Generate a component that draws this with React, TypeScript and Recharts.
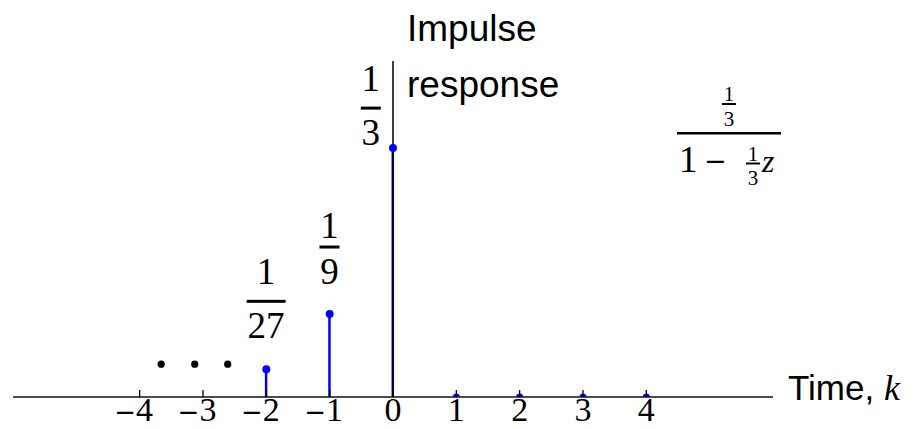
import React from 'react';
import {
  ComposedChart,
  Bar,
  Scatter,
  XAxis,
  YAxis,
  ReferenceLine,
  LabelList,
} from 'recharts';

// impulse response h(k) of 1/3 / (1 - z/3): nonzero only for k <= 0
const TIME_K = [-2, -1, 0, 1, 2, 3, 4];
const RESPONSE = [1 / 27, 1 / 9, 1 / 3, 0, 0, 0, 0];
const LABEL_NUM = ['1', '1', '1', '', '', '', ''];
const LABEL_DEN = ['27', '9', '3', '', '', '', ''];

// "..." trailing off to the left
const ELLIPSIS_K = [-3.66, -3.13, -2.61];
const ELLIPSIS_H = [0.044, 0.044, 0.044];

const TICKS = [-4, -3, -2, -1, 0, 1, 2, 3, 4];

const BLUE = '#0000ff';
const SERIF = '"Liberation Serif", "Times New Roman", serif';
const SANS = '"Liberation Sans", Arial, sans-serif';
const MINUS_FONT = '"DejaVu Sans", sans-serif';

const stems = TIME_K.map((k, i) => ({
  k,
  h: RESPONSE[i],
  num: LABEL_NUM[i],
  den: LABEL_DEN[i],
}));

const dots = ELLIPSIS_K.map((k, i) => ({ k, h: ELLIPSIS_H[i] }));

// fraction label placement relative to each stem head
const labelShift: Record<number, { dx: number; bar: number; num: number }> = {
  [-2]: { dx: 0, bar: -68, num: -17 },
  [-1]: { dx: 0, bar: -67, num: -9 },
  [0]: { dx: -22, bar: -40, num: -17 },
};

const Fraction = (props: any) => {
  const { x, y, width, index } = props;
  const d = stems[index];
  if (!d || !d.num) return null;
  const shift = labelShift[d.k];
  const cx = x + (width || 0) / 2 + shift.dx;
  const by = y + shift.bar;
  const w = d.den.length > 1 ? 39 : 20;
  return (
    <g fontFamily={SERIF} fontSize={37} fill="#000">
      <text x={cx} y={by + shift.num} textAnchor="middle">
        {d.num}
      </text>
      <rect x={cx - w / 2} y={by - 1.5} width={w} height={3} fill="#000" />
      <text x={cx} y={by + 37} textAnchor="middle">
        {d.den}
      </text>
    </g>
  );
};

const TimeTick = (props: any) => {
  const { x, y, payload } = props;
  const v = payload.value as number;
  return (
    <g>
      <line x1={x} y1={y - 7} x2={x} y2={y} stroke="#000" strokeWidth={1.3} />
      <text
        x={v < 0 ? x - 6 : x}
        y={y + 24}
        textAnchor="middle"
        fontFamily={SERIF}
        fontSize={34}
        fill="#000"
      >
        {v < 0 && (
          <tspan fontFamily={MINUS_FONT} fontSize={26}>
            {'\u2212'}
          </tspan>
        )}
        {Math.abs(v)}
      </text>
    </g>
  );
};

const StemHead = (props: any) => {
  const { cx, cy, payload } = props;
  return <circle cx={cx} cy={cy} r={payload.h > 0 ? 4 : 3.5} fill={BLUE} />;
};

const EllipsisDot = (props: any) => {
  const { cx, cy } = props;
  return <circle cx={cx} cy={cy} r={3.6} fill="#000" />;
};

export default function App() {
  return (
    <div
      style={{
        position: 'fixed',
        left: 0,
        top: 0,
        width: 916,
        height: 429,
        background: '#fff',
      }}
    >
      <ComposedChart
        width={916}
        height={429}
        data={stems}
        margin={{ top: 61, right: 143, bottom: 2, left: 13 }}
      >
        <XAxis
          dataKey="k"
          type="number"
          domain={[-6, 6]}
          ticks={TICKS}
          tick={<TimeTick />}
          tickLine={false}
          tickSize={0}
          tickMargin={0}
          height={30}
          axisLine={{ stroke: '#111', strokeWidth: 1.5 }}
          allowDataOverflow
        />
        <YAxis type="number" domain={[0, 0.45]} hide allowDataOverflow />
        <Bar dataKey="h" barSize={2.5} fill={BLUE} isAnimationActive={false}>
          <LabelList dataKey="h" content={<Fraction />} />
        </Bar>
        <Scatter
          data={stems}
          dataKey="h"
          shape={<StemHead />}
          isAnimationActive={false}
        />
        <Scatter
          data={dots}
          dataKey="h"
          shape={<EllipsisDot />}
          isAnimationActive={false}
        />
        <ReferenceLine x={0} stroke="#000" strokeWidth={1.5} />
      </ComposedChart>

      <svg
        width={916}
        height={429}
        style={{ position: 'absolute', left: 0, top: 0, pointerEvents: 'none' }}
      >
        <g fontFamily={SANS} fontSize={37} fill="#000">
          <text x={407} y={41}>
            Impulse
          </text>
          <text x={407} y={97}>
            response
          </text>
          <text x={788} y={400} fontSize={35}>
            Time,{' '}
            <tspan fontFamily={SERIF} fontStyle="italic" fontSize={36}>
              k
            </tspan>
          </text>
        </g>

        {/* transfer function 1/3 over 1 - z/3 */}
        <g fontFamily={SERIF} fill="#000">
          <text x={729} y={101} fontSize={21} textAnchor="middle">
            1
          </text>
          <rect x={722} y={103} width={14} height={2} />
          <text x={729} y={126} fontSize={21} textAnchor="middle">
            3
          </text>
          <rect x={677} y={132} width={104} height={2.5} />
          <text x={679} y={172} fontSize={37}>
            1
          </text>
          <text x={704} y={170} fontSize={27} fontFamily={MINUS_FONT}>
            {'\u2212'}
          </text>
          <text x={753} y={161} fontSize={21} textAnchor="middle">
            1
          </text>
          <rect x={746} y={162.5} width={14} height={2} />
          <text x={753} y={185} fontSize={21} textAnchor="middle">
            3
          </text>
          <text x={762} y={172} fontSize={32} fontStyle="italic">
            z
          </text>
        </g>
      </svg>
    </div>
  );
}
